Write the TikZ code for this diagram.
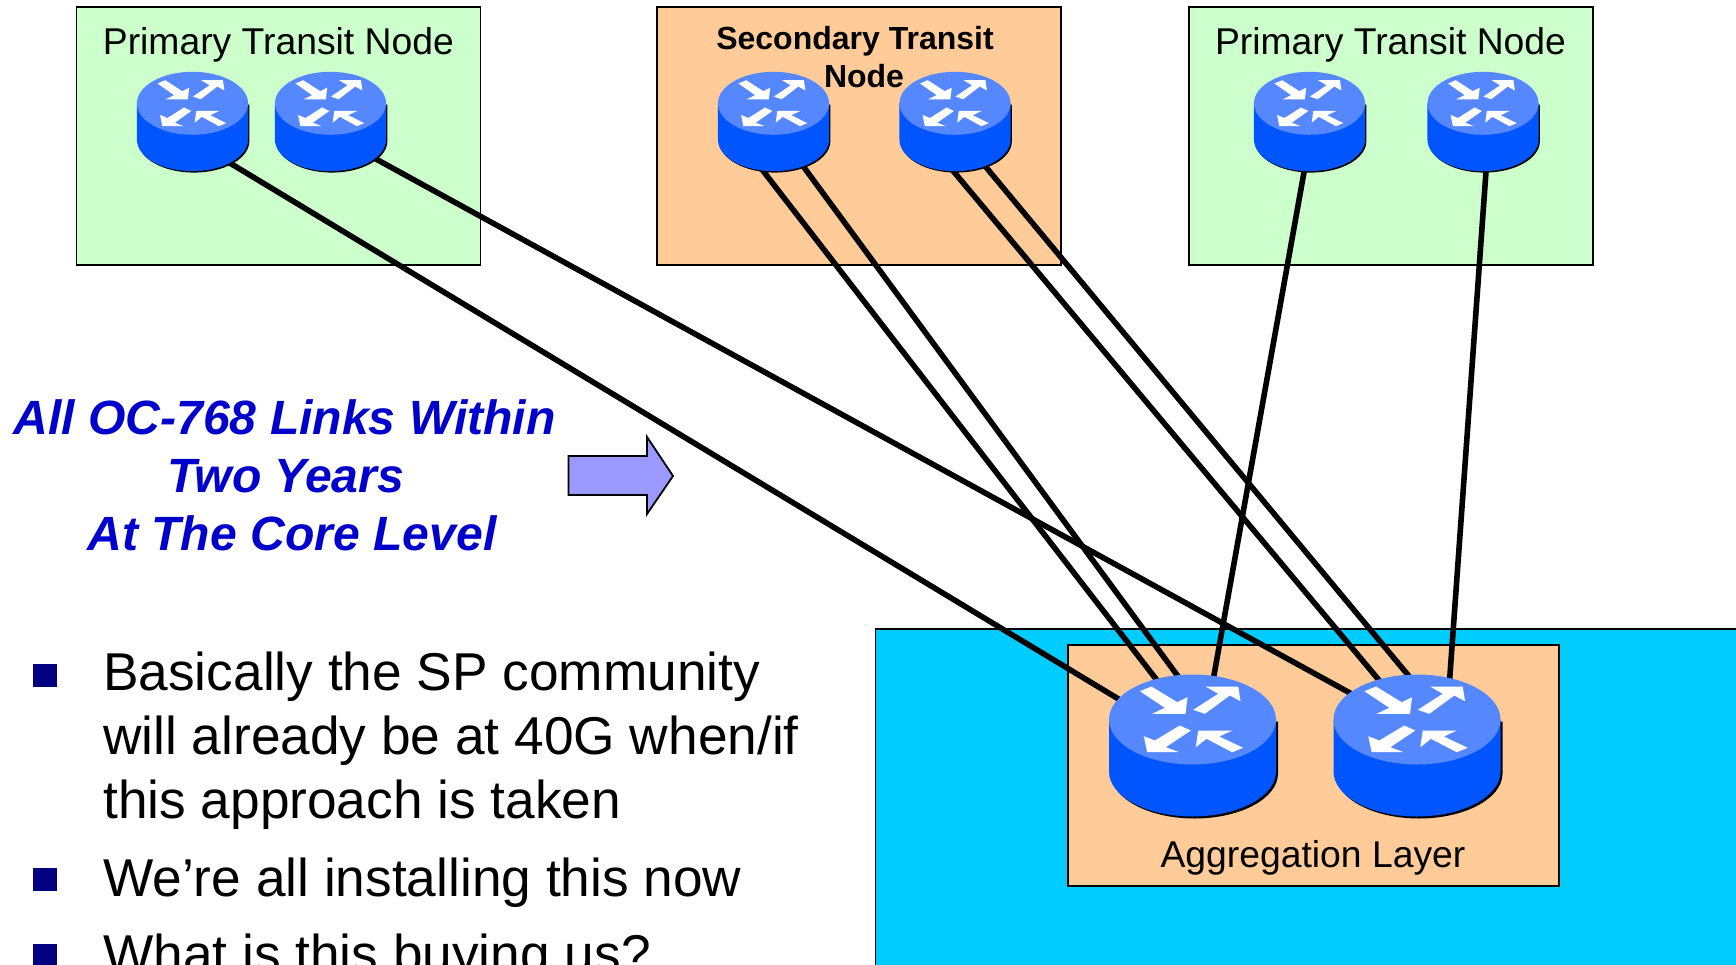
\documentclass[tikz,border=0pt]{standalone}
\usepackage{fontspec}
\setmainfont{Liberation Sans}
\definecolor{paleGreen}{HTML}{CCFFCC}
\definecolor{paleOrange}{HTML}{FFCC99}
\definecolor{cyanBack}{HTML}{00CCFF}
\definecolor{routerTop}{HTML}{5588FF}
\definecolor{routerBody}{HTML}{0055FF}
\definecolor{arrowFill}{HTML}{9999FF}
\definecolor{headBlue}{HTML}{0000CC}
\definecolor{bulletBlue}{HTML}{000080}
\tikzset{
  box/.style={draw=black,line width=1.8pt},
  link/.style={draw=black,line width=5.6pt},
  routerspot/.style={inner sep=0pt,minimum width=167pt,minimum height=142pt},
  smallspot/.style={inner sep=0pt,minimum width=111pt,minimum height=99pt},
  label/.style={anchor=base,inner sep=0pt,font=\fontsize{37.3}{44}\selectfont},
  bullet/.style={fill=bulletBlue,draw=none,minimum size=23.5pt,inner sep=0pt},
  bodytext/.style={anchor=base west,inner sep=0pt,align=left,font=\fontsize{53.25}{64}\selectfont},
  head/.style={anchor=base,inner sep=0pt,text=headBlue,font=\fontsize{48.1}{58}\selectfont\bfseries\itshape},
  small/.style={xscale=.665,yscale=.7},
  router/.pic={
    \fill[black,shift={(2,2)}] (-83.5,-26) -- (-83.5,26) arc[start angle=180,end angle=0,x radius=83.5,y radius=45] -- (83.5,-26) -- cycle;
    \fill[routerBody] (-83.5,-26) -- (-83.5,26) arc[start angle=180,end angle=0,x radius=83.5,y radius=45] -- (83.5,-26) -- cycle;
    \fill[routerTop] (0,-26) ellipse[x radius=83.5,y radius=45];
    \begin{scope}[shift={(0,-26)}]
      \fill[white] (-52.7,-28.3) -- (-41,-33) -- (-15.3,-17.3) -- (-5,-22.3) -- (-7,-5.7) -- (-40.3,-5.7) -- (-27.7,-11.7) -- cycle;
      \fill[white] (0.7,-9.7) -- (12.3,-5.7) -- (37.3,-24) -- (48,-18.3) -- (45.7,-33) -- (13,-33) -- (25.7,-25.7) -- cycle;
      \fill[white] (-1.7,11) -- (-12.7,6) -- (-37.7,21) -- (-48.7,16.7) -- (-45.3,32.7) -- (-13.3,32.7) -- (-26.7,27.7) -- cycle;
      \fill[white] (50.7,28.3) -- (39.7,32.7) -- (14,19.3) -- (3.3,27.7) -- (5.7,11) -- (40,11) -- (26.7,17) -- cycle;
    \end{scope}
  }
}
\begin{document}
\begin{tikzpicture}[x=1pt,y=-1pt]
\useasboundingbox (0,0) rectangle (1736,965);
\clip (0,0) rectangle (1736,965);
% boxes
\node[box,fill=paleGreen,anchor=north west,inner sep=0pt,minimum width=404pt,minimum height=258pt] (primaryA) at (75.5,6.5) {};
\node[box,fill=paleOrange,anchor=north west,inner sep=0pt,minimum width=404pt,minimum height=258pt] (secondary) at (656,6.5) {};
\node[box,fill=paleGreen,anchor=north west,inner sep=0pt,minimum width=404pt,minimum height=258pt] (primaryB) at (1188,6.5) {};
\node[box,fill=cyanBack,anchor=north west,inner sep=0pt,minimum width=900pt,minimum height=400pt] (cyanArea) at (874.5,628) {};
\node[box,fill=paleOrange,anchor=north west,inner sep=0pt,minimum width=491pt,minimum height=241pt] (aggBox) at (1067,644) {};
% router positions
\node[smallspot] (r1) at (192.5,121.5) {};
\node[smallspot] (r2) at (330.5,121.5) {};
\node[smallspot] (r3) at (773.5,121.5) {};
\node[smallspot] (r4) at (955,121.5) {};
\node[smallspot] (r5) at (1309.5,121.5) {};
\node[smallspot] (r6) at (1483,121.5) {};
\node[routerspot] (R1) at (1192.5,745.5) {};
\node[routerspot] (R2) at (1417,745.5) {};
% labels
\node[label] (lblA) at (278.4,55) {Primary Transit Node};
\node[label] (lblB) at (1390.5,55) {Primary Transit Node};
\node[anchor=base,inner sep=0pt,font=\fontsize{32}{38}\selectfont\bfseries] (lblS1) at (855,50) {Secondary Transit};
\node[anchor=base,inner sep=0pt,font=\fontsize{32}{38}\selectfont\bfseries] (lblS2) at (864,88) {Node};
\node[label] (lblAgg) at (1313,867) {Aggregation Layer};
% links
\draw[link] ([shift={(7.5,23.5)}]r1.center) -- ([shift={(-42.5,-27.5)}]R1.center);
\draw[link] ([shift={(13.5,20)}]r2.center) -- ([shift={(-36,-35.5)}]R2.center);
\draw[link] ([shift={(-25,30.5)}]r3.center) -- ([shift={(-11,-33.5)}]R1.center);
\draw[link] ([shift={(14.8,24.5)}]r3.center) -- ([shift={(11.7,-33.5)}]R1.center);
\draw[link] ([shift={(-17.7,30.5)}]r4.center) -- ([shift={(-11.4,-33.5)}]R2.center);
\draw[link] ([shift={(13.4,24.5)}]r4.center) -- ([shift={(21.7,-33.5)}]R2.center);
\draw[link] ([shift={(-1.9,30.5)}]r5.center) -- ([shift={(14.9,-33.5)}]R1.center);
\draw[link] ([shift={(4.4,30.5)}]r6.center) -- ([shift={(30.3,-33.5)}]R2.center);
% routers
\foreach \n in {r1,r2,r3,r4,r5,r6} {\pic[small] at (\n) {router};}
\foreach \n in {R1,R2} {\pic at (\n) {router};}
% heading
\node[head] (h1) at (284.5,434.5) {All OC-768 Links Within};
\node[head] (h2) at (285.6,492.5) {Two Years};
\node[head] (h3) at (292,550.5) {At The Core Level};
% big arrow
\draw[fill=arrowFill,line width=1.8pt,line join=miter] (568.5,456) -- (647,456) -- (647,437) -- (673,476) -- (647,514) -- (647,495) -- (568.5,495) -- cycle;
% bullets
\node[bullet] (b1) at (45.2,675.5) {};
\node[bullet] (b2) at (45.2,879.5) {};
\node[bullet] (b3) at (45.2,956) {};
\node[bodytext] (t1) at (103,818) {Basically the SP community\\will already be at 40G when/if\\this approach is taken};
\node[bodytext] (t2) at (103,896) {We’re all installing this now};
\node[bodytext] (t3) at (103,972) {What is this buying us?};
\end{tikzpicture}
\end{document}
